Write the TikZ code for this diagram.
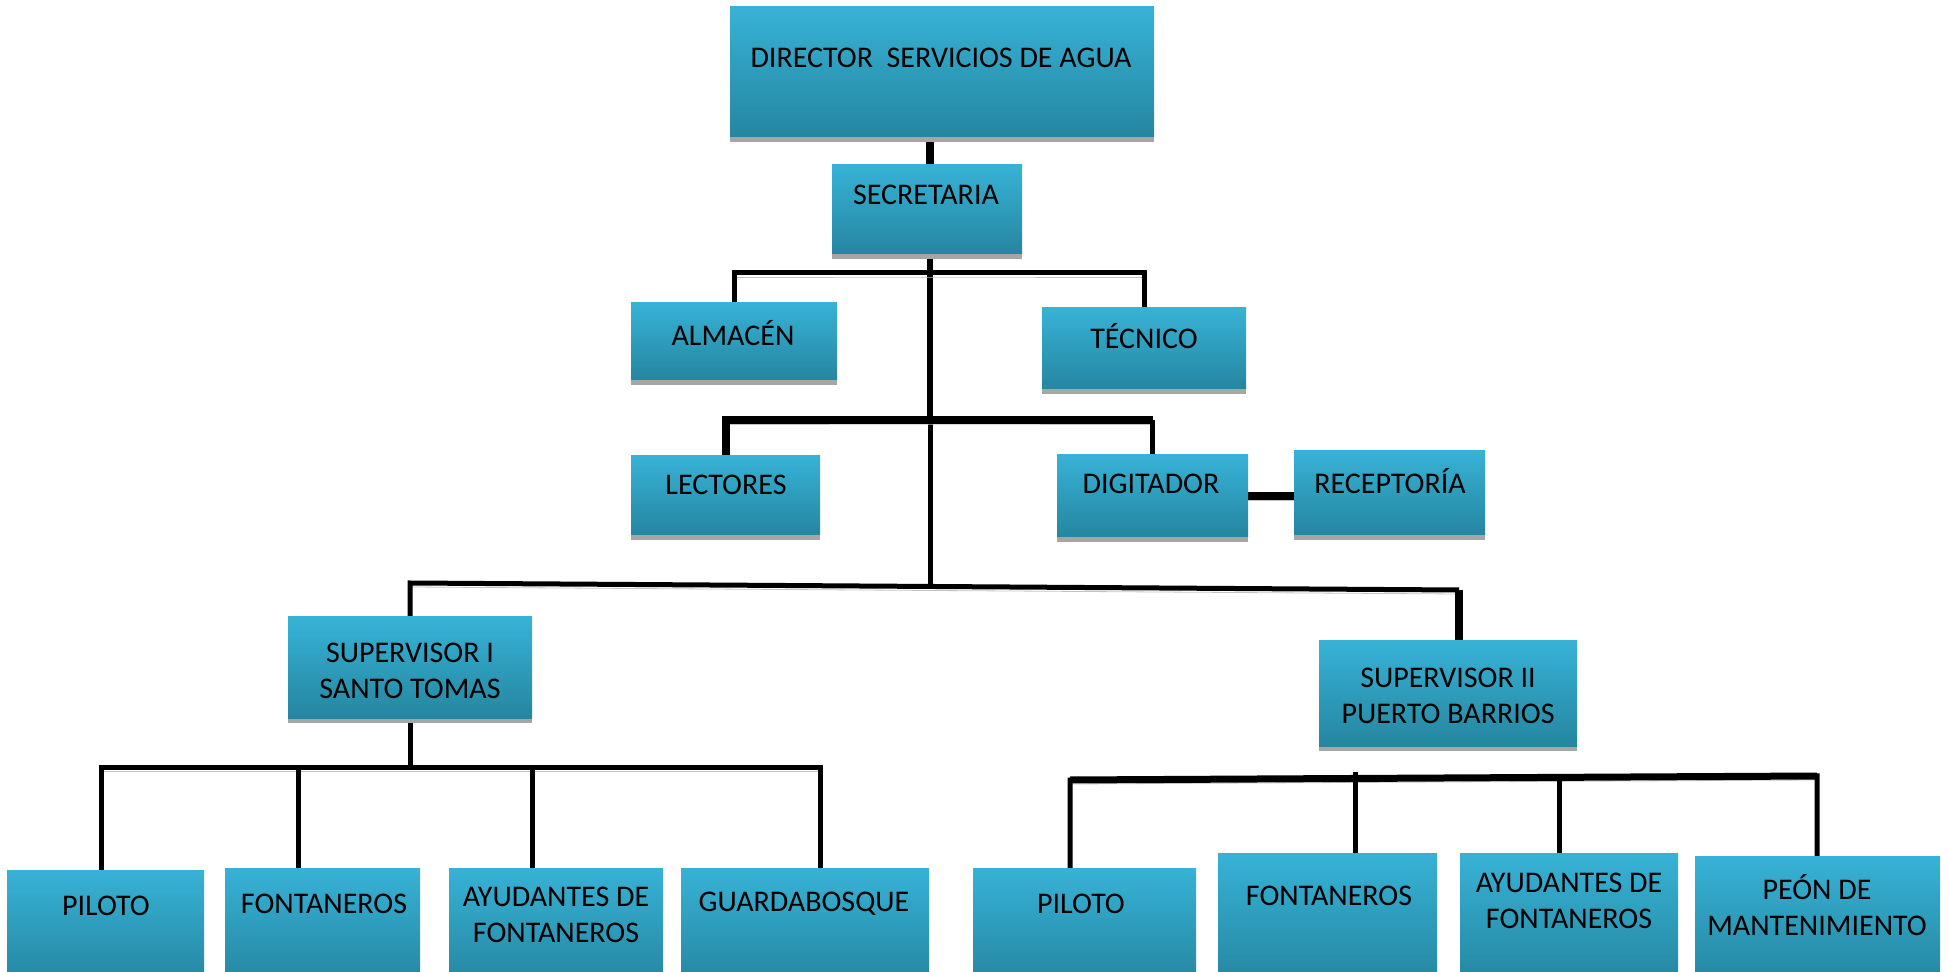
\documentclass[tikz,border=0pt]{standalone}
\usepackage{fontspec}
\setmainfont{Carlito}
\usetikzlibrary{shadows}
\pgfdeclarelayer{background}
\pgfsetlayers{background,main}

\definecolor{boxtop}{RGB}{55,178,214}
\definecolor{boxbot}{RGB}{37,134,160}
\definecolor{boxshade}{RGB}{166,166,166}
\definecolor{barshade}{RGB}{195,195,195}

% box given by its corners (x1,y1) and (x2,y2), in pixel units
\newcommand\orgbox[5]{%
  \node[unitbox, minimum width={(#4-#2)*0.5pt}, minimum height={(#5-#3)*0.5pt}]
    (#1) at ({(#2+#4)/2},{(#3+#5)/2}) {};}

\begin{document}
\begin{tikzpicture}[x=0.5pt, y=-0.5pt,
  unitbox/.style={rectangle, inner sep=0pt, outer sep=0pt,
    top color=boxtop, bottom color=boxbot,
    general shadow={fill=boxshade, shadow yshift=-2.5pt}},
  lbl/.style={font=\fontsize{15}{18}\selectfont, align=center, inner sep=0pt},
  link/.style={draw=black, line width=2.5pt},
  heavy/.style={line width=4pt},
  shaded/.style={preaction={draw=barshade, transform canvas={yshift=-2pt}}}]

\useasboundingbox (0,0) rectangle (1949,972);
\clip (0,0) rectangle (1949,972);

% boxes
\orgbox{dir}{730}{7}{1154}{137}
\orgbox{sec}{832}{165}{1022}{254}
\orgbox{alm}{631}{303}{837}{380}
\orgbox{tec}{1042}{308}{1246}{389}
\orgbox{lec}{631}{456}{820}{535}
\orgbox{dig}{1057}{455}{1248}{537}
\orgbox{rec}{1294}{451}{1485}{535}
\orgbox{supA}{288}{617}{532}{718}
\orgbox{supB}{1319}{641}{1577}{746}
\orgbox{pilA}{7}{870}{204}{985}
\orgbox{fonA}{225}{868}{420}{985}
\orgbox{ayuA}{449}{868}{663}{985}
\orgbox{guaA}{681}{868}{929}{985}
\orgbox{pilB}{973}{868}{1196}{985}
\orgbox{fonB}{1218}{853}{1437}{985}
\orgbox{ayuB}{1460}{853}{1678}{985}
\orgbox{peon}{1695}{856}{1940}{985}

% labels
\node[lbl] (dir-t) at (941,58) {DIRECTOR\ \ SERVICIOS DE AGUA};
\node[lbl] (sec-t) at (926,195) {SECRETARIA};
\node[lbl] (alm-t) at (733,333) {ALMACÉN};
\node[lbl] (tec-t) at (1144,336) {TÉCNICO};
\node[lbl] (lec-t) at (726,485) {LECTORES};
\node[lbl] (dig-t) at (1151,484) {DIGITADOR};
\node[lbl] (rec-t) at (1390,481) {RECEPTORÍA};
\node[lbl] (supA-t) at (410,671) {SUPERVISOR I\\SANTO TOMAS};
\node[lbl] (supB-t) at (1448,696) {SUPERVISOR II\\PUERTO BARRIOS};
\node[lbl] (pilA-t) at (106,906) {PILOTO};
\node[lbl] (fonA-t) at (324,904) {FONTANEROS};
\node[lbl] (ayuA-t) at (556,915) {AYUDANTES DE\\FONTANEROS};
\node[lbl] (guaA-t) at (804,904) {GUARDABOSQUE};
\node[lbl] (pilB-t) at (1081,904) {PILOTO};
\node[lbl] (fonB-t) at (1329,896) {FONTANEROS};
\node[lbl] (ayuB-t) at (1569,901) {AYUDANTES DE\\FONTANEROS};
\node[lbl] (peon-t) at (1817,905) {PEÓN DE\\MANTENIMIENTO};

% junction points
\coordinate (t1) at (930,273);
\coordinate (t2) at (930,420);
\coordinate (t3) at (930,586);
\coordinate (sa) at (410,583);
\coordinate (sb) at (1459,590);
\coordinate (la) at (101,767);
\coordinate (lb) at (298,767);
\coordinate (lc) at (532,767);
\coordinate (ld) at (820,767);
\coordinate (ra) at (1070,780);
\coordinate (rb) at (1355,778);
\coordinate (rc) at (1559,777);
\coordinate (rd) at (1817,776);

% connectors, behind the boxes
\begin{pgfonlayer}{background}
  \draw[link, heavy] (sec.north -| t1) -- (dir.south -| t1);
  \draw[link, line width=3pt] (sec.south -| t1) -- (t2);
  \draw[link] (t2) -- (t3);
  \draw[link, shaded] (alm.north) |- (t1) -| (tec.north);
  \draw[link, heavy, shaded] (lec.north) |- (t2) -- (t2 -| dig.north);
  \draw[link] (t2 -| dig.north) -- (dig.north);
  \draw[link, heavy, shaded] (dig.east) -- (dig.east -| rec.west);
  \draw[link, shaded] (supA.north) -- (sa) -- (sb);
  \draw[link, heavy] (sb) -- (sb |- supB.north);
  % Santo Tomas team
  \draw[link] (supA.south) -- (supA.south |- la);
  \draw[link, shaded] (la |- pilA.north) -- (la) -- (ld) -- (ld |- guaA.north);
  \draw[link] (lb) -- (lb |- fonA.north);
  \draw[link] (lc) -- (lc |- ayuA.north);
  % Puerto Barrios team
  \draw[link, shaded] (ra |- pilB.north) -- (ra) -- (rd) -- (rd |- peon.north);
  \draw[link, line width=3.5pt] (ra) -- (rd);
  \draw[link] ([yshift=3pt]rb) -- (rb |- fonB.north);
  \draw[link] (rc) -- (rc |- ayuB.north);
\end{pgfonlayer}
\end{tikzpicture}
\end{document}
